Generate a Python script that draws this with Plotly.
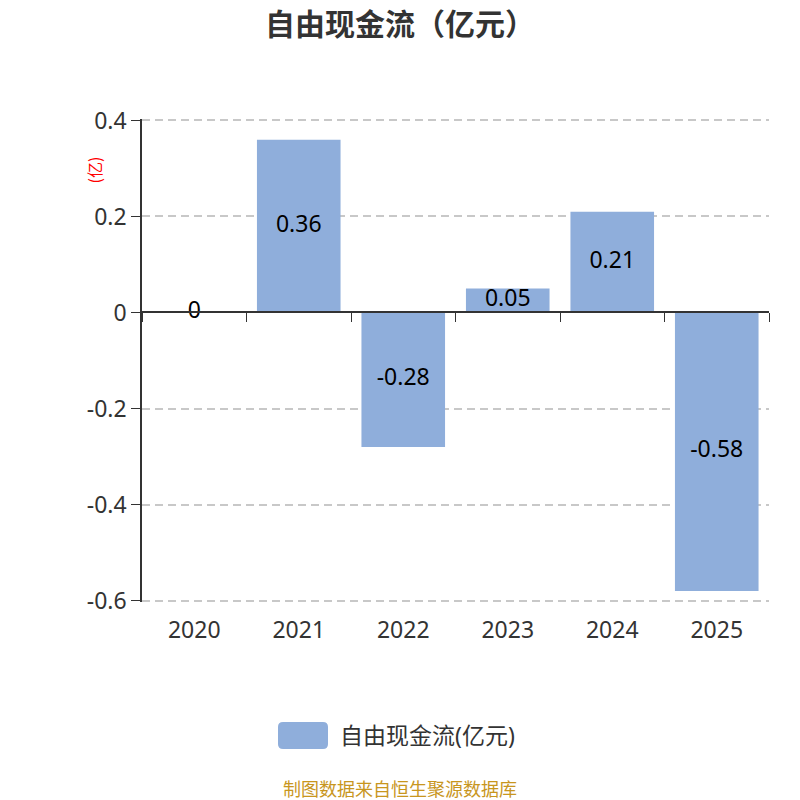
import plotly.graph_objects as go

# data
years = ["2020", "2021", "2022", "2023", "2024", "2025"]
fcf = [0, 0.36, -0.28, 0.05, 0.21, -0.58]
labels = ["0", "0.36", "-0.28", "0.05", "0.21", "-0.58"]
y_ticks = [0.4, 0.2, 0, -0.2, -0.4, -0.6]
y_tick_text = ["0.4", "0.2", "0", "-0.2", "-0.4", "-0.6"]
series_name = "自由现金流(亿元)"

font_family = "Noto Sans, Noto Sans CJK SC, sans-serif"
bar_color = "#8FAEDB"
# small pad so the edge gridlines at 0.4 / -0.6 are still drawn
y_min, y_max = -0.603, 0.403

# plot area in pixels (page adds an 8px body margin)
L, R, T, B = 134, 39, 111, 206
W = H = 800
pw, ph = W - L - R, H - T - B


def px_x(fx):
    return (fx - L) / pw


def px_y(fy):
    return (H - B - fy) / ph


fig = go.Figure()

fig.add_trace(go.Bar(
    x=years, y=fcf,
    name=series_name,
    marker=dict(color=bar_color, line=dict(width=0)),
    width=0.8, showlegend=False,
))

# value labels in the middle of each bar
fig.add_trace(go.Scatter(
    x=years, y=[v / 2 for v in fcf],
    mode="text", text=labels,
    textfont=dict(size=23, color="#000000", family=font_family),
    showlegend=False, hoverinfo="skip",
))

# dummy trace to carry bottom category labels
fig.add_trace(go.Scatter(
    x=years, y=[None] * len(years), xaxis="x2",
    mode="markers", showlegend=False, hoverinfo="skip",
))

zero_pos = (0 - y_min) / (y_max - y_min)

fig.update_layout(
    width=W, height=H,
    paper_bgcolor="white", plot_bgcolor="white",
    margin=dict(l=L, r=R, t=T, b=B),
    font=dict(family=font_family, color="#333333"),
    title=dict(text="<b>自由现金流（亿元）</b>", x=0.49, xanchor="center",
               y=1 - 16 / H, yanchor="middle",
               font=dict(size=30, color="#333333",
                         family="Noto Sans CJK SC, sans-serif")),
    showlegend=False,
    xaxis=dict(
        type="category", anchor="free", position=zero_pos,
        showline=True, linecolor="#333333", linewidth=1.5,
        ticks="outside", tickson="boundaries", ticklen=9, tickcolor="#333333",
        showticklabels=False, showgrid=False, zeroline=False,
        range=[-0.5, 5.5],
    ),
    xaxis2=dict(
        type="category", overlaying="x", anchor="y", side="bottom",
        matches="x", showline=False, ticks="", showgrid=False,
        ticklabelstandoff=12,
        tickfont=dict(size=23, color="#333333"),
    ),
    yaxis=dict(
        range=[y_min, y_max], tickvals=y_ticks, ticktext=y_tick_text,
        showline=True, linecolor="#333333", linewidth=1.5,
        ticks="outside", ticklen=9, tickcolor="#333333",
        tickfont=dict(size=23, color="#333333"),
        showgrid=True, gridcolor="#C8C8C8", griddash="8px,5px", gridwidth=1.5,
        zeroline=False,
    ),
)

# y-axis unit label
fig.add_annotation(
    text="(亿)", textangle=-90, xref="paper", yref="paper",
    x=px_x(71), y=px_y(147), showarrow=False,
    font=dict(size=16, color="#FF0000", family="Noto Sans CJK SC, sans-serif"),
)

# legend: rounded swatch + label
x0, x1, y0, y1, r = 270, 320, 714, 741, 5
pts = [
    ("M", x0 + r, y0), ("L", x1 - r, y0), ("Q", x1, y0, x1, y0 + r),
    ("L", x1, y1 - r), ("Q", x1, y1, x1 - r, y1), ("L", x0 + r, y1),
    ("Q", x0, y1, x0, y1 - r), ("L", x0, y0 + r), ("Q", x0, y0, x0 + r, y0),
]
path = ""
for p in pts:
    if p[0] == "Q":
        path += f"Q{px_x(p[1]):.5f},{px_y(p[2]):.5f} {px_x(p[3]):.5f},{px_y(p[4]):.5f} "
    else:
        path += f"{p[0]}{px_x(p[1]):.5f},{px_y(p[2]):.5f} "
path += "Z"
fig.add_shape(type="path", path=path, xref="paper", yref="paper",
              fillcolor=bar_color, line=dict(width=0))
fig.add_annotation(
    text=series_name, xref="paper", yref="paper",
    x=px_x(330), y=px_y(727), xanchor="left", yanchor="middle", showarrow=False,
    font=dict(size=23, color="#333333"),
)

fig.add_annotation(
    text="制图数据来自恒生聚源数据库", xref="paper", yref="paper",
    x=px_x(392), y=px_y(781), xanchor="center", yanchor="middle", showarrow=False,
    font=dict(size=18, color="#C8961E"),
)

fig.write_html("out.html")
